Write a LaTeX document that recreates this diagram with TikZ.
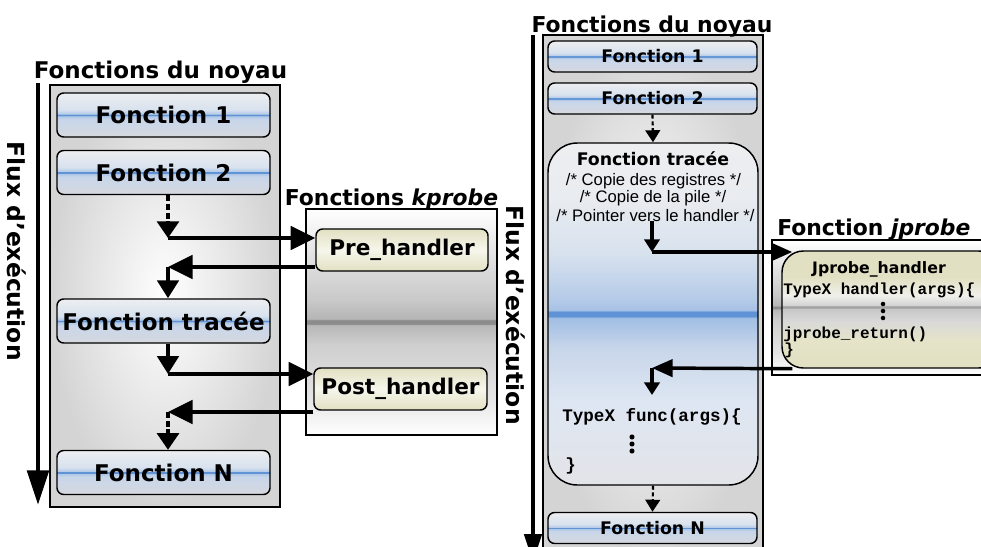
\documentclass[tikz,border=0pt]{standalone}
\usepackage{fontspec}
\setmainfont{DejaVu Sans}
\newfontfamily\cmtfont{Liberation Sans}
\newfontfamily\codefont{Liberation Mono}
\usetikzlibrary{arrows.meta,calc}

% glass colours
\definecolor{ftop}{HTML}{EDEEF0}
\definecolor{fhighA}{HTML}{D8E2EE}
\definecolor{fhighB}{HTML}{B4CAE8}
\definecolor{fline}{HTML}{5F93D6}
\definecolor{flowB}{HTML}{ADC6E6}
\definecolor{flowA}{HTML}{C8D6EA}
\definecolor{fbot}{HTML}{D6D8DE}
\definecolor{beigetop}{HTML}{E2E0C2}
\definecolor{beigemid}{HTML}{F6F6EC}
\definecolor{boxgray}{HTML}{D4D4D4}

\pgfdeclareverticalshading{glassblue}{100bp}{color(0bp)=(fbot); color(25bp)=(fbot);
  color(45bp)=(flowA); color(48.8bp)=(flowB); color(49.2bp)=(fline); color(50.8bp)=(fline);
  color(51.2bp)=(fhighB); color(56bp)=(fhighA); color(75bp)=(ftop); color(100bp)=(ftop)}
\pgfdeclareverticalshading{glasstall}{100bp}{color(0bp)=(fbot!70!white); color(25bp)=(fbot!70!white);
  color(37bp)=(flowA!60!white); color(45bp)=(flowA); color(49.4bp)=(flowB!85!fline); color(49.7bp)=(fline);
  color(50.3bp)=(fline); color(50.6bp)=(fhighB!85!fline); color(52bp)=(fhighB); color(59bp)=(fhighA);
  color(67bp)=(ftop!80!fhighA); color(75bp)=(ftop); color(100bp)=(ftop)}
\pgfdeclareverticalshading{glassgray}{100bp}{color(0bp)=(white); color(25bp)=(white);
  color(33bp)=(black!10); color(45bp)=(black!19); color(49.3bp)=(black!28); color(49.6bp)=(black!45);
  color(50.4bp)=(black!45); color(50.7bp)=(black!29); color(55bp)=(black!21); color(66bp)=(black!10);
  color(75bp)=(white); color(100bp)=(white)}
\pgfdeclareverticalshading{glassbeige}{100bp}{color(0bp)=(beigetop); color(25bp)=(beigetop);
  color(37bp)=(beigetop!90!white); color(45bp)=(black!15); color(50.4bp)=(black!22); color(50.7bp)=(black!36);
  color(51.5bp)=(black!36); color(51.8bp)=(black!17); color(56bp)=(beigetop!80!black!20); color(64bp)=(beigetop);
  color(75bp)=(beigetop); color(100bp)=(beigetop)}

\begin{document}
\begin{tikzpicture}[x=0.75pt,y=-0.75pt,
  kernelbox/.style={draw,line width=1.5pt,shading=radial,inner color=white,outer color=boxgray},
  glassbox/.style={draw,line width=0.9pt,shading=glassgray},
  fbox/.style={draw,line width=1.1pt,rounded corners=5pt,shading=glassblue,inner sep=0pt},
  hbox/.style={draw,line width=1.1pt,rounded corners=5pt,top color=beigetop,bottom color=beigetop,middle color=beigemid,inner sep=0pt},
  lbl/.style={font=\fontsize{17.25}{20}\selectfont\bfseries},
  hlbl/.style={font=\fontsize{16.2}{19}\selectfont\bfseries},
  ttl/.style={font=\fontsize{16.4}{19}\selectfont\bfseries,inner sep=0pt},
  rlbl/.style={font=\fontsize{13}{15}\selectfont\bfseries},
  cmt/.style={font=\fontsize{12.5}{14}\selectfont\cmtfont,inner sep=0pt},
  code/.style={font=\fontsize{13.2}{15}\selectfont\codefont\bfseries,inner sep=0pt},
  jcode/.style={font=\fontsize{12}{14}\selectfont\codefont\bfseries,inner sep=0pt},
  flowlbl/.style={font=\fontsize{17.6}{20}\selectfont\bfseries,inner sep=0pt},
  flow/.style={line width=3.4pt,-{Triangle[length=26pt,width=16pt]}},
  rflow/.style={line width=2.6pt,-{Triangle[length=21pt,width=13pt]}},
  bigarrow/.style={line width=3pt,-{Triangle[length=18.5pt,width=17.5pt]}},
  downarrow/.style={line width=3pt,-{Triangle[length=13.5pt,width=16pt]}},
  dasharrow/.style={line width=2.3pt,dash pattern=on 4.5pt off 2pt,-{Triangle[length=12.5pt,width=16.5pt]}},
  rbigarrow/.style={line width=2.6pt,-{Triangle[length=15.5pt,width=13pt]}},
  rarrow/.style={line width=2.4pt,-{Triangle[length=9.5pt,width=11.5pt]}},
  rdasharrow/.style={line width=1.6pt,dash pattern=on 3pt off 2pt,-{Triangle[length=9pt,width=11pt]}}]
  \useasboundingbox (0,0) rectangle (981,546);
  \clip (0,0) rectangle (981,546);
  \fill[white] (0,0) rectangle (981,546);

  % left: kernel functions
  \node[kernelbox,minimum width=172.5pt,minimum height=316.5pt] (noyauL) at (165,296) {};
  \node[ttl,font=\fontsize{17.25}{20}\selectfont\bfseries,anchor=base] (tnoyauL) at (160.5,78) {Fonctions du noyau};
  \coordinate (flowLa) at (38,83);
  \coordinate (flowLb) at (38,505);
  \draw[flow] (flowLa) -- (flowLb);
  \node[flowlbl,rotate=-90] (fluxL) at (17,251) {Flux d’exécution};
  \node[fbox,lbl,minimum width=159.75pt,minimum height=33pt] (f1) at (163.5,115) {Fonction 1};
  \node[fbox,lbl,minimum width=159.75pt,minimum height=33pt] (f2) at (163.5,172.5) {Fonction 2};
  \node[fbox,lbl,minimum width=159.75pt,minimum height=33pt] (ft) at (163.5,321) {Fonction tracée};
  \node[fbox,lbl,minimum width=159.75pt,minimum height=33pt] (fn) at (163.5,472.5) {Fonction N};

  % kprobe handlers
  \node[glassbox,minimum width=143.25pt,minimum height=169.5pt] (kbox) at (401.5,322) {};
  \node[ttl,anchor=base] (tkprobe) at (391.5,205) {Fonctions \textit{kprobe}};
  \node[hbox,hlbl,minimum width=129pt,minimum height=31.5pt] (pre) at (402,250) {Pre\_handler};
  \node[hbox,hlbl,minimum width=129.75pt,minimum height=31.5pt] (post) at (400.5,389) {Post\_handler};

  \coordinate (c1) at (168,238);
  \coordinate (c2) at (168,267);
  \coordinate (c3) at (168,374);
  \coordinate (c4) at (168,412);
  \draw[dasharrow] (f2.south -| c1) -- (c1);
  \draw[bigarrow] (c1) -- (pre.west |- c1);
  \draw[bigarrow] (pre.west |- c2) -- (c2);
  \draw[downarrow] (c2) -- (ft.north -| c2);
  \draw[downarrow] (ft.south -| c3) -- (c3);
  \draw[bigarrow] (c3) -- (post.west |- c3);
  \draw[bigarrow] (post.west |- c4) -- (c4);
  \draw[dasharrow] (c4) -- (fn.north -| c4);

  % right: kernel functions with jprobe
  \node[kernelbox,minimum width=165pt,minimum height=393.75pt] (noyauR) at (653,297.5) {};
  \node[ttl,anchor=base] (tnoyauR) at (652,32) {Fonctions du noyau};
  \coordinate (flowRa) at (533,35);
  \coordinate (flowRb) at (533,562);
  \draw[rflow] (flowRa) -- (flowRb);
  \node[flowlbl,rotate=-90] (fluxR) at (516,315) {Flux d’exécution};
  \node[fbox,rlbl,minimum width=156.75pt,minimum height=23.25pt] (r1) at (652.5,56.5) {Fonction 1};
  \node[fbox,rlbl,minimum width=156.75pt,minimum height=23.25pt] (r2) at (652.5,98.5) {Fonction 2};
  \node[fbox,rlbl,minimum width=156.75pt,minimum height=23.25pt] (rn) at (652.5,528) {Fonction N};
  \node[draw,line width=1.1pt,rounded corners=22pt,shading=glasstall,minimum width=157.5pt,minimum height=256.5pt] (rt) at (653,314) {};
  \node[rlbl,inner sep=0pt,anchor=base] (rttl) at (653,165) {Fonction tracée};
  \node[cmt,anchor=base] (cm1) at (653.5,185) {/* Copie des registres */};
  \node[cmt,anchor=base] (cm2) at (653,202) {/* Copie de la pile */};
  \node[cmt,anchor=base] (cm3) at (655.5,221) {/* Pointer vers le handler */};
  \node[code,anchor=base west] (code) at (562,421) {TypeX func(args)\{};
  \foreach \y in {437,444,451}
    \fill (632,\y) circle (1.9pt);
  \node[code,anchor=base west] (close) at (565,470) {\}};

  % jprobe handler
  \node[glassbox,minimum width=178.5pt,minimum height=101.25pt] (jbox) at (891,307.5) {};
  \node[ttl,anchor=base west] (tjprobe) at (777,235) {Fonction \textit{jprobe}};
  \node[draw,line width=1.1pt,rounded corners=16pt,shading=glassbeige,minimum width=163.5pt,minimum height=87.75pt] (jh) at (891,309.5) {};
  \node[rlbl,font=\fontsize{11.8}{14}\selectfont\bfseries,inner sep=0pt,anchor=base] (jhttl) at (879,273) {Jprobe\_handler};
  \node[jcode,anchor=base west] (jc1) at (783,294) {TypeX handler(args)\{};
  \foreach \y in {304,311,318}
    \fill (883,\y) circle (1.7pt);
  \node[jcode,anchor=base west] (jc2) at (783,338) {jprobe\_return()};
  \node[jcode,anchor=base west] (jc3) at (784,354) {\}};

  \coordinate (d1) at (652,252);
  \coordinate (d3) at (652,368);
  \coordinate (d4) at (652,395);
  \draw[rdasharrow] (r2.south) -- (rt.north);
  \draw[rarrow] (cm3.south -| d1) -- (d1);
  \draw[rbigarrow] (d1) -- ($(jh.west |- d1)+(11,0)$);
  \draw[rbigarrow] ($(jh.south west)+(11,0)$) -- (d3);
  \draw[rarrow] (d3) -- (d4);
  \draw[rdasharrow] (rt.south) -- (rn.north);
\end{tikzpicture}
\end{document}
